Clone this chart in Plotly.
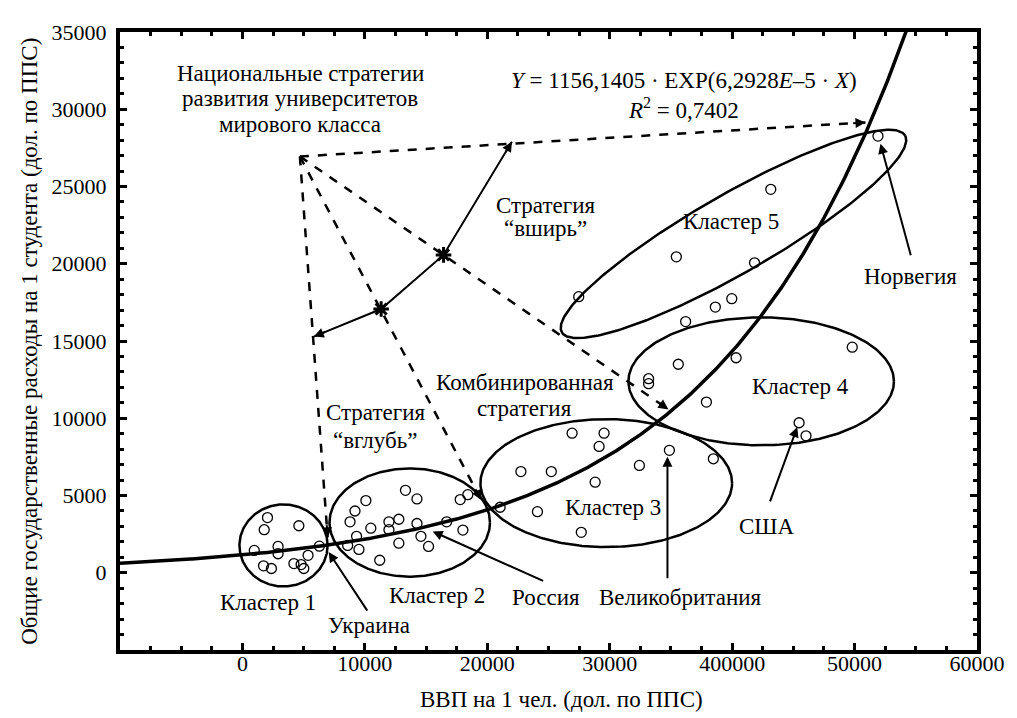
import numpy as np
import plotly.graph_objects as go

# ---------------- data ----------------
c1_x = [2046, 1779, 4609, 970, 2911, 2911, 5361, 6283, 1722, 2369, 4205, 4795, 5013]
c1_y = [3570, 2786, 3041, 1447, 1702, 1230, 1128, 1721, 446, 274, 593, 529, 274]
c2_x = [9194, 10083, 8790, 10488, 9323, 8595, 9517, 11215, 13318, 14256, 11967, 12776,
        11967, 14256, 12776, 14579, 15202, 16681, 17789, 18412, 18008, 21048]
c2_y = [3997, 4673, 3296, 2888, 2359, 1766, 1511, 810, 5336, 4781, 3296, 3462,
        2786, 3188, 1913, 2359, 1702, 3296, 4737, 5055, 2760, 4239]
c3_x = [22746, 25229, 26926, 29538, 29134, 28810, 32425, 34875, 38465, 24096, 27678]
c3_y = [6547, 6547, 9034, 9034, 8179, 5865, 6949, 7924, 7376, 3953, 2614]
c4_x = [33177, 33177, 35603, 40325, 37899, 49810, 45468, 46034]
c4_y = [12559, 12240, 13496, 13917, 11048, 14599, 9709, 8861]
c5_x = [51912, 43155, 35441, 41829, 27468, 38627, 39970, 36201]
c5_y = [28261, 24819, 20445, 20062, 17869, 17194, 17742, 16257]

fit_a = 1156.1405
fit_b = 6.2928e-5

x_tick_vals = [0, 10000, 20000, 30000, 40000, 50000, 60000]
x_tick_text = ["0", "10000", "20000", "30000", "400000", "50000", "60000"]
y_tick_vals = [0, 5000, 10000, 15000, 20000, 25000, 30000, 35000]
y_tick_text = ["0", "5000", "10000", "15000", "20000", "25000", "30000", "35000"]

# ---------------- layout geometry ----------------
# the page body has an 8px margin, so the figure is drawn 8px in from the corner
W, H = 1009, 710
ML, MR, MT, MB = 112, 32, 14, 68
XMIN, XMAX = -10000, 60000
YMIN, YMAX = -5000, 35000
PW, PH = W - ML - MR, H - MT - MB
SX = PW / (XMAX - XMIN)   # px per x unit
SY = PH / (YMAX - YMIN)   # px per y unit

FONT = "Liberation Serif"
FS = 23

fig = go.Figure()

# regression curve
xc = np.linspace(XMIN, XMAX, 500)
fig.add_trace(go.Scatter(x=xc, y=fit_a * np.exp(fit_b * xc), mode="lines",
                         line=dict(color="black", width=3.5), hoverinfo="skip"))

# ellipses (center in data units, semi-axes in px, angle in degrees)
ellipses = [
    (3356, 1766, 44.5, 41.7, 0),
    (13665, 3251, 81, 55, 0),
    (29717, 5801, 127, 65, 0),
    (42371, 12387, 134, 65, 0),
    (40107, 21930, 200, 40, 30),
]
t = np.linspace(0, 2 * np.pi, 300)
for cx, cy, a, b, ang in ellipses:
    th = np.radians(ang)
    dxp = a * np.cos(t) * np.cos(th) - b * np.sin(t) * np.sin(th)
    dyp = a * np.cos(t) * np.sin(th) + b * np.sin(t) * np.cos(th)
    fig.add_trace(go.Scatter(x=cx + dxp / SX, y=cy + dyp / SY, mode="lines",
                             line=dict(color="black", width=2.5), hoverinfo="skip"))

# strategy lines
origin = (4694, 26943)
dash_targets = [(50890, 29150), (6960, 2293), (19503, 4713), (34798, 10573)]
for tx, ty in dash_targets:
    fig.add_trace(go.Scatter(x=[origin[0], tx], y=[origin[1], ty], mode="lines",
                             line=dict(color="black", width=2.5, dash="dash"),
                             hoverinfo="skip"))

path_x = [5827, 11330, 16428, 22012]
path_y = [15287, 17070, 20573, 27898]
fig.add_trace(go.Scatter(x=path_x, y=path_y, mode="lines",
                         line=dict(color="black", width=2), hoverinfo="skip"))
fig.add_trace(go.Scatter(x=path_x[1:3], y=path_y[1:3], mode="markers",
                         marker=dict(symbol="asterisk-open", size=13, color="black",
                                     line=dict(width=3, color="black")),
                         hoverinfo="skip"))

# points
all_x = c1_x + c2_x + c3_x + c4_x + c5_x
all_y = c1_y + c2_y + c3_y + c4_y + c5_y
fig.add_trace(go.Scatter(x=all_x, y=all_y, mode="markers",
                         marker=dict(symbol="circle-open", size=10, color="black",
                                     line=dict(width=1.3, color="black")),
                         hoverinfo="skip"))

annotations = []


def head(hx, hy, fx, fy, length=14, width=2):
    """arrowhead at (hx,hy) pointing away from (fx,fy)"""
    dxp = (fx - hx) * SX
    dyp = (fy - hy) * SY
    n = np.hypot(dxp, dyp)
    tx = hx + dxp / n * length / SX
    ty = hy + dyp / n * length / SY
    annotations.append(dict(x=hx, y=hy, ax=tx, ay=ty, xref="x", yref="y",
                            axref="x", ayref="y", text="", showarrow=True,
                            arrowhead=2, arrowsize=1, arrowwidth=width,
                            arrowcolor="black"))


for tx, ty in dash_targets:
    head(tx, ty, origin[0], origin[1], width=2)
head(path_x[0], path_y[0], path_x[1], path_y[1])
head(path_x[-1], path_y[-1], path_x[-2], path_y[-2])

# pointer arrows (tail -> head)
pointers = [
    ((10277, -2548), (7040, 1338)),
    ((24682, -573), (15538, 2675)),
    ((34717, -446), (34717, 7516)),
    ((43052, 4522), (45318, 9427)),
    ((54625, 20446), (52117, 27771)),
]
for (tx, ty), (hx, hy) in pointers:
    annotations.append(dict(x=hx, y=hy, ax=tx, ay=ty, xref="x", yref="y",
                            axref="x", ayref="y", text="", showarrow=True,
                            arrowhead=2, arrowsize=1, arrowwidth=2,
                            arrowcolor="black"))

labels = [
    ("Украина", 10368, -3408),
    ("Россия", 24795, -1604),
    ("Великобритания", 35804, -1624),
    ("США", 42840, 3025),
    ("Кластер 1", 2055, -1924),
    ("Кластер 2", 15894, -1497),
    ("Кластер 3", 30258, 4236),
    ("Кластер 4", 45593, 12051),
    ("Кластер 5", 39905, 22707),
    ("Норвегия", 54588, 19172),
    ("Стратегия", 24795, 23790),
    ("“вширь”", 24795, 22261),
    ("Стратегия", 10836, 10350),
    ("“вглубь”", 10836, 8567),
    ("Комбинированная", 23096, 12325),
    ("стратегия", 23015, 10605),
    ("Национальные стратегии", 4726, 32325),
    ("развития университетов", 4726, 30669),
    ("мирового класса", 4726, 29013),
    ("<i>Y</i> = 1156,1405 · EXP(6,2928<i>E</i>–5 · <i>X</i>)", 36060, 31880),
    ("<i>R</i><sup>2</sup> = 0,7402", 36060, 30080),
]
for txt, lx, ly in labels:
    annotations.append(dict(x=lx, y=ly, xref="x", yref="y", text=txt, showarrow=False,
                            font=dict(family=FONT, size=FS, color="black"),
                            xanchor="center", yanchor="middle"))

# axis titles (page px -> figure paper coords; page is offset by 8px)
annotations.append(dict(x=(566 - 8 - ML) / PW, y=-(700 - 8 - (H - MB)) / PH,
                        xref="paper", yref="paper",
                        text="ВВП на 1 чел. (дол. по ППС)", showarrow=False,
                        font=dict(family=FONT, size=FS, color="black"),
                        xanchor="center", yanchor="middle"))
annotations.append(dict(x=(28 - 8 - ML) / PW, y=0.5, xref="paper", yref="paper",
                        text="Общие государственные расходы на 1 студента (дол. по ППС)",
                        textangle=-90, showarrow=False,
                        font=dict(family=FONT, size=FS, color="black"),
                        xanchor="center", yanchor="middle"))

axis_common = dict(showgrid=False, zeroline=False, showline=True, linecolor="black",
                   linewidth=4, mirror="allticks", ticks="inside", ticklen=7,
                   tickwidth=3, tickcolor="black",
                   tickfont=dict(family=FONT, size=22, color="black"))

fig.update_layout(
    width=W, height=H,
    margin=dict(l=ML, r=MR, t=MT, b=MB),
    paper_bgcolor="white", plot_bgcolor="white",
    showlegend=False,
    font=dict(family=FONT, color="black"),
    xaxis=dict(range=[XMIN, XMAX], tickvals=x_tick_vals, ticktext=x_tick_text,
               minor=dict(dtick=2500, tick0=0, ticks="inside", ticklen=4, tickwidth=3,
                          tickcolor="black"),
               ticklabelstandoff=-9, **axis_common),
    yaxis=dict(range=[YMIN, YMAX], tickvals=y_tick_vals, ticktext=y_tick_text,
               minor=dict(dtick=1000, tick0=0, ticks="inside", ticklen=4, tickwidth=3,
                          tickcolor="black"),
               ticklabelstandoff=5, **axis_common),
    annotations=annotations,
)

fig.write_html("out.html")
